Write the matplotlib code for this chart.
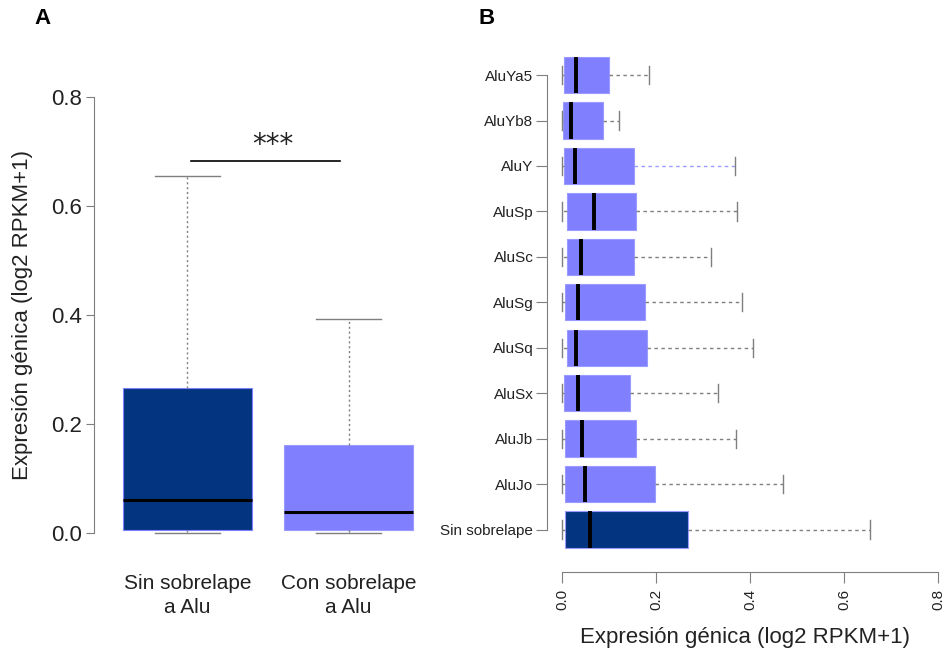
import matplotlib
matplotlib.use("Agg")
import matplotlib.pyplot as plt

plt.rcParams['font.family'] = ['Liberation Sans', 'DejaVu Sans']

# ---------------- Data ----------------
# Panel A
groups_a = ["Sin sobrelape\na Alu", "Con sobrelape\na Alu"]
a_q1 = [0.005, 0.005]
a_med = [0.060, 0.039]
a_q3 = [0.267, 0.162]
a_whislo = [0.0, 0.0]
a_whishi = [0.656, 0.393]
sig_y = 0.682
sig_text = "***"

# Panel B (listed bottom to top)
groups_b = ["Sin sobrelape", "AluJo", "AluJb", "AluSx", "AluSq", "AluSg",
            "AluSc", "AluSp", "AluY", "AluYb8", "AluYa5"]
b_q1 = [0.006, 0.006, 0.006, 0.004, 0.009, 0.005, 0.009, 0.009, 0.004, 0.001, 0.003]
b_med = [0.060, 0.049, 0.043, 0.033, 0.029, 0.033, 0.040, 0.067, 0.027, 0.018, 0.030]
b_q3 = [0.268, 0.198, 0.156, 0.145, 0.181, 0.176, 0.152, 0.157, 0.153, 0.087, 0.100]
b_whislo = [0.0] * 11
b_whishi = [0.656, 0.470, 0.370, 0.332, 0.406, 0.382, 0.317, 0.372, 0.368, 0.121, 0.184]

xlabel_b = "Expresión génica (log2 RPKM+1)"
ylabel_a = "Expresión génica (log2 RPKM+1)"

DARK = "#03347f"
LIGHT = "#8080ff"
GREY = "#7f7f7f"

fig = plt.figure(figsize=(9.45, 6.57), dpi=100)

# ---------------- Panel A ----------------
axA = fig.add_axes([0.0995, 0.1622, 0.3682, 0.7166])
statsA = []
for i in range(2):
    statsA.append(dict(med=a_med[i], q1=a_q1[i], q3=a_q3[i],
                       whislo=a_whislo[i], whishi=a_whishi[i], fliers=[]))
bpA = axA.bxp(statsA, positions=[1, 2], widths=0.8, capwidths=0.4,
              patch_artist=True, showfliers=False,
              medianprops=dict(color="black", lw=2.2),
              whiskerprops=dict(color=GREY, lw=1.0, linestyle=(0, (1.5, 2))),
              capprops=dict(color=GREY, lw=1.0))
for patch, c in zip(bpA["boxes"], [DARK, LIGHT]):
    patch.set_facecolor(c)
    patch.set_edgecolor(LIGHT if c == DARK else "#9a9aff")
    patch.set_linewidth(0.8)
axA.set_xlim(0.42, 2.58)
axA.set_ylim(-0.032, 0.832)
for s in ["top", "right", "bottom"]:
    axA.spines[s].set_visible(False)
axA.spines["left"].set_bounds(0, 0.8)
axA.spines["left"].set_color(GREY)
axA.set_yticks([0, 0.2, 0.4, 0.6, 0.8])
axA.set_yticklabels(["0.0", "0.2", "0.4", "0.6", "0.8"])
axA.tick_params(axis="y", length=6, color=GREY, labelsize=16, pad=3, labelcolor="#222222")
axA.set_xticks([1, 2])
axA.set_xticklabels(groups_a, fontsize=15, linespacing=1.3, color="#222222")
axA.tick_params(axis="x", length=0, pad=17)
axA.set_ylabel(ylabel_a, fontsize=16, color="#222222", labelpad=13)
axA.plot([1.02, 1.95], [sig_y, sig_y], color="black", lw=1.2)
axA.text(1.53, sig_y + 0.016, sig_text, ha="center", va="baseline", fontsize=20,
         family=["DejaVu Sans"], color="#222222")

# ---------------- Panel B ----------------
axB = fig.add_axes([0.5791, 0.1289, 0.4185, 0.8219])
statsB = []
for i in range(len(groups_b)):
    statsB.append(dict(med=b_med[i], q1=b_q1[i], q3=b_q3[i],
                       whislo=b_whislo[i], whishi=b_whishi[i], fliers=[]))
pos = list(range(1, len(groups_b) + 1))
bpB = axB.bxp(statsB, positions=pos, widths=0.8, capwidths=0.4,
              orientation="horizontal", patch_artist=True, showfliers=False,
              medianprops=dict(color="black", lw=2.8),
              whiskerprops=dict(color=GREY, lw=1.0, linestyle=(0, (2.5, 2.5))),
              capprops=dict(color=GREY, lw=1.0))
for i, patch in enumerate(bpB["boxes"]):
    c = DARK if i == 0 else LIGHT
    patch.set_facecolor(c)
    patch.set_edgecolor("#9a9aff")
    patch.set_linewidth(0.8)
# AluY upper whisker drawn in light blue
iy = groups_b.index("AluY")
bpB["whiskers"][2 * iy + 1].set_color("#9a9aff")
axB.set_xlim(-0.032, 0.81)
axB.set_ylim(0.06, 11.94)
for s in ["top", "right"]:
    axB.spines[s].set_visible(False)
axB.spines["left"].set_bounds(1, 11)
axB.spines["bottom"].set_bounds(0, 0.8)
axB.spines["left"].set_color(GREY)
axB.spines["bottom"].set_color(GREY)
axB.set_yticks(pos)
axB.set_yticklabels(groups_b, fontsize=11, color="#222222")
axB.set_xticks([0, 0.2, 0.4, 0.6, 0.8])
axB.set_xticklabels(["0.0", "0.2", "0.4", "0.6", "0.8"], rotation=90, fontsize=11, color="#222222")
axB.tick_params(axis="both", length=8, color=GREY, pad=4)
axB.tick_params(axis="y", pad=2)
axB.set_xlabel(xlabel_b, fontsize=16, color="#222222", labelpad=12)

# Panel letters
fig.text(43 / 945, 1 - 19 / 657, "A", fontsize=16, fontweight="bold", ha="center", va="center")
fig.text(487 / 945, 1 - 19 / 657, "B", fontsize=16, fontweight="bold", ha="center", va="center")

fig.savefig("out.png", dpi=100)
